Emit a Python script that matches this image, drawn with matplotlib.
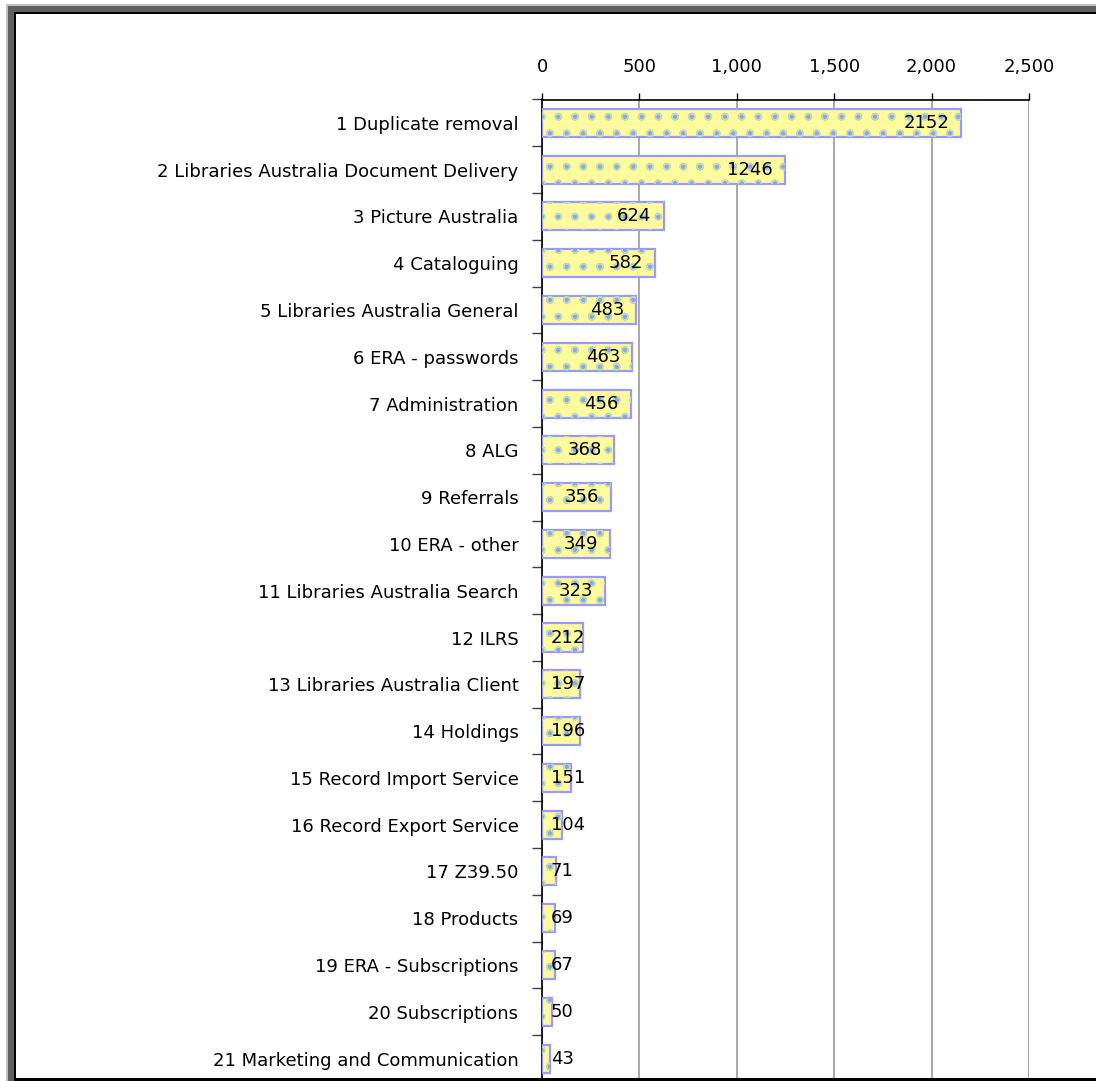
import matplotlib
matplotlib.use("Agg")
import matplotlib.pyplot as plt
from matplotlib.patches import Rectangle
import numpy as np

categories = [
    "1 Duplicate removal",
    "2 Libraries Australia Document Delivery",
    "3 Picture Australia",
    "4 Cataloguing",
    "5 Libraries Australia General",
    "6 ERA - passwords",
    "7 Administration",
    "8 ALG",
    "9 Referrals",
    "10 ERA - other",
    "11 Libraries Australia Search",
    "12 ILRS",
    "13 Libraries Australia Client",
    "14 Holdings",
    "15 Record Import Service",
    "16 Record Export Service",
    "17 Z39.50",
    "18 Products",
    "19 ERA - Subscriptions",
    "20 Subscriptions",
    "21 Marketing and Communication",
]
values = [2152, 1246, 624, 582, 483, 463, 456, 368, 356, 349, 323,
          212, 197, 196, 151, 104, 71, 69, 67, 50, 43]
xticks = [0, 500, 1000, 1500, 2000, 2500]
xticklabels = ["0", "500", "1,000", "1,500", "2,000", "2,500"]

W, H = 1096, 1081
fig = plt.figure(figsize=(W / 100, H / 100), dpi=100)
fig.patch.set_facecolor("white")
plt.rcParams["font.family"] = ["DejaVu Sans"]
plt.rcParams["hatch.linewidth"] = 0.9

FS = 13

ax_left, ax_right = 542 / W, 1029 / W
ax_top, ax_bot = 1 - 99.5 / H, 1 - 1082 / H
ax = fig.add_axes([ax_left, ax_bot, ax_right - ax_left, ax_top - ax_bot])

y = np.arange(len(categories))
ax.barh(y, values, height=0.6, color="#FFFA9E", edgecolor="#9999FF",
        linewidth=1.6, hatch=".", zorder=3)
ax.barh(y, values, height=0.6, color="none", edgecolor="#B5E0AA",
        linewidth=0, hatch="o", zorder=3.5)

ax.set_xlim(0, 2500)
ax.set_ylim(len(categories) - 0.5, -0.5)
ax.xaxis.tick_top()
ax.set_xticks(xticks)
ax.set_xticklabels(xticklabels, fontsize=FS)
ax.tick_params(axis="x", direction="out", length=5, width=1, color="black", pad=12)
ax.set_yticks(y)
ax.set_yticklabels(categories, fontsize=FS)
ax.tick_params(axis="y", which="major", length=0, pad=17)
ax.set_yticks(np.arange(-0.5, len(categories)), minor=True)
ax.tick_params(axis="y", which="minor", length=7, width=1, color="#404040")

ax.grid(axis="x", color="#A8A8A8", linewidth=1.4, zorder=0)
ax.set_axisbelow(True)
for s in ["right", "bottom"]:
    ax.spines[s].set_visible(False)
ax.spines["top"].set_linewidth(1.2)
ax.spines["left"].set_linewidth(1.2)

# value labels: inside the bar end, or after the axis when they do not fit
fig.canvas.draw()
renderer = fig.canvas.get_renderer()
for yi, v in zip(y, values):
    t = ax.text(0, yi, f"{v}", fontsize=FS, va="center", ha="left", zorder=5)
    tw = t.get_window_extent(renderer).width
    x0_px = ax.transData.transform((0, yi))[0]
    end_px = ax.transData.transform((v, yi))[0]
    left_px = max(end_px - 12 - tw, x0_px + 9)
    xd = ax.transData.inverted().transform((left_px, 0))[0]
    t.set_x(xd)

# figure frame
def frect(x0, y0, w, h, c):
    fig.patches.append(Rectangle((x0 / W, 1 - (y0 + h) / H), w / W, h / H,
                                 transform=fig.transFigure, facecolor=c,
                                 edgecolor="none", zorder=10))
frect(6, 4, W, 2, "#C0C0C0")
frect(6, 4, 2, H, "#C0C0C0")
frect(8, 6, W, 6, "#606060")
frect(8, 6, 6, H, "#606060")
frect(14, 12, W, 1.5, "#000000")
frect(14, 12, 2, H, "#000000")
frect(14, 1078, W, 2.5, "#000000")

fig.savefig("out.png", dpi=100, facecolor="white")
